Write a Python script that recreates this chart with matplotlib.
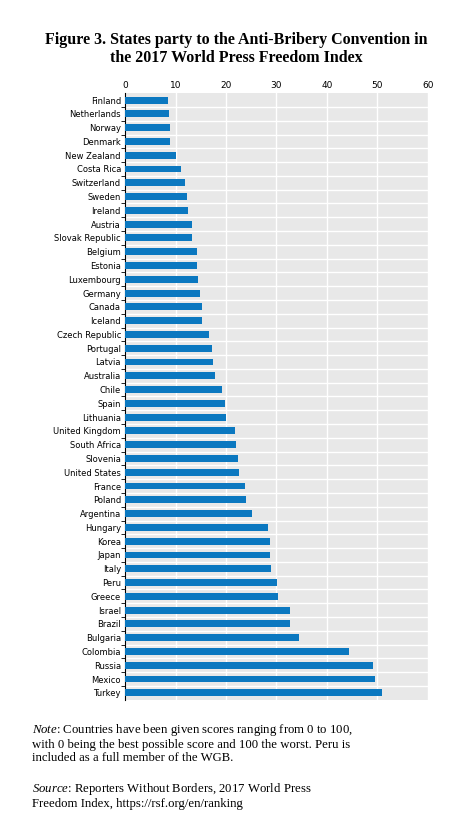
import matplotlib
matplotlib.use("Agg")
import matplotlib.pyplot as plt
import numpy as np

countries = ["Finland", "Netherlands", "Norway", "Denmark", "New Zealand", "Costa Rica",
             "Switzerland", "Sweden", "Ireland", "Austria", "Slovak Republic", "Belgium",
             "Estonia", "Luxembourg", "Germany", "Canada", "Iceland", "Czech Republic",
             "Portugal", "Latvia", "Australia", "Chile", "Spain", "Lithuania",
             "United Kingdom", "South Africa", "Slovenia", "United States", "France",
             "Poland", "Argentina", "Hungary", "Korea", "Japan", "Italy", "Peru", "Greece",
             "Israel", "Brazil", "Bulgaria", "Colombia", "Russia", "Mexico", "Turkey"]
scores = [8.5, 8.7, 8.8, 8.9, 10.0, 11.1, 11.8, 12.3, 12.4, 13.3, 13.3, 14.2,
          14.3, 14.5, 14.9, 15.3, 15.3, 16.7, 17.3, 17.4, 17.9, 19.2, 19.9, 20.0,
          21.7, 21.9, 22.3, 22.5, 23.8, 24.0, 25.2, 28.3, 28.7, 28.8, 29.0, 30.1, 30.4,
          32.7, 32.7, 34.5, 44.3, 49.2, 49.5, 50.9]

plt.rcParams["mathtext.fontset"] = "custom"
plt.rcParams["mathtext.rm"] = "Liberation Serif"
plt.rcParams["mathtext.it"] = "Liberation Serif:italic"

fig = plt.figure(figsize=(4.55, 8.32), dpi=100)
ax = fig.add_axes([0.275, 0.159, 0.665, 0.729])
ax.set_facecolor("#e8e8e8")

y = np.arange(len(countries))
ax.barh(y, scores, height=0.5, color="#0b78c0", zorder=3)
ax.set_xlim(0, 60)
ax.set_ylim(len(countries) - 0.5, -0.5)
ax.set_xticks(range(0, 61, 10))
ax.xaxis.tick_top()
ax.tick_params(axis="x", length=0, labelsize=6.5, pad=2)
ax.set_yticks(y)
ax.set_yticklabels(countries, fontsize=6)
ax.tick_params(axis="y", length=0, pad=3)
ax.set_yticks(y[:-1] + 0.5, minor=True)
ax.tick_params(axis="y", which="minor", length=3, direction="out", color="black")
ax.grid(True, axis="x", color="white", linewidth=1, zorder=1)
ax.grid(True, axis="y", which="minor", color="white", linewidth=1, zorder=1)
for s in ["top", "right", "bottom"]:
    ax.spines[s].set_visible(False)
ax.spines["left"].set_color("black")
ax.spines["left"].set_linewidth(0.8)

fig.text(0.52, 0.941, "Figure 3. States party to the Anti-Bribery Convention in\nthe 2017 World Press Freedom Index",
         ha="center", va="center", fontsize=11.5, fontweight="bold", family="Liberation Serif", linespacing=1.1)

fig.text(0.07, 0.107, "$\\it{Note}$: Countries have been given scores ranging from 0 to 100,\n"
         "with 0 being the best possible score and 100 the worst. Peru is\n"
         "included as a full member of the WGB.",
         ha="left", va="center", fontsize=9.2, family="Liberation Serif", linespacing=1.15)
fig.text(0.07, 0.044, "$\\it{Source}$: Reporters Without Borders, 2017 World Press\n"
         "Freedom Index, https://rsf.org/en/ranking",
         ha="left", va="center", fontsize=9.2, family="Liberation Serif", linespacing=1.15)

fig.savefig("out.png", dpi=100)
